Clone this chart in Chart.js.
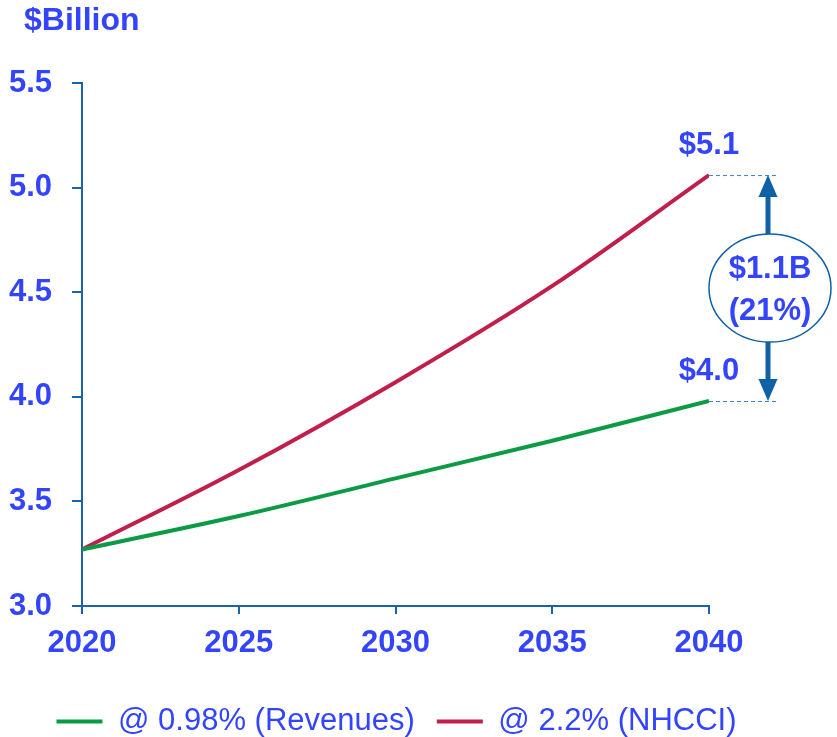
<!DOCTYPE html>
<html>
<head>
<meta charset="utf-8">
<title>$Billion projection</title>
<script src="https://cdn.jsdelivr.net/npm/chart.js@4.4.1/dist/chart.umd.min.js"></script>
<style>
  html, body { margin: 0; padding: 0; background: #fff; }
  #wrap { width: 837px; height: 737px; position: relative; }
</style>
</head>
<body>
<div id="wrap"><canvas id="chart"></canvas></div>
<script>
// ── Data ──────────────────────────────────────────────────────────────────────
const YEARS        = [2020, 2025, 2030, 2035, 2040];
const REVENUES     = [3.27, 3.43, 3.61, 3.79, 3.98];   // @ 0.98%
const NHCCI        = [3.27, 3.65, 4.07, 4.53, 5.06];   // @ 2.2%
const SERIES_NAMES = ['@ 0.98% (Revenues)', '@ 2.2% (NHCCI)'];
const Y_TICKS      = [3.0, 3.5, 4.0, 4.5, 5.0, 5.5];
const END_LABELS   = ['$4.0', '$5.1'];
const GAP_LABEL    = ['$1.1B', '(21%)'];
const UNIT_LABEL   = '$Billion';

// ── Style ─────────────────────────────────────────────────────────────────────
const TEXT_BLUE = '#3344ff';
const AXIS_BLUE = '#1a62ac';
const ARROW_BLUE = '#1060a8';
const GREEN = '#0b9b45';
const RED   = '#c11f4b';
const FONT  = "'Liberation Sans', Arial, sans-serif";

const toPts = vals => YEARS.map((x, i) => ({ x, y: vals[i] }));

// ── Annotation plugin (end labels, gap arrow, unit title) ─────────────────────
const annotations = {
  id: 'annotations',
  afterDatasetsDraw(chart) {
    const { ctx, scales: { x, y } } = chart;
    const xEnd = x.getPixelForValue(YEARS[YEARS.length - 1]);
    const yHi  = y.getPixelForValue(NHCCI[NHCCI.length - 1]);
    const yLo  = y.getPixelForValue(REVENUES[REVENUES.length - 1]);
    const ax   = xEnd + 59;
    const cy   = (yHi + yLo) / 2;
    const rx = 61, ry = 54;

    ctx.save();

    // unit title
    ctx.fillStyle = TEXT_BLUE;
    ctx.font = `bold 32px ${FONT}`;
    ctx.textAlign = 'left';
    ctx.textBaseline = 'middle';
    ctx.fillText(UNIT_LABEL, 24, 21);

    // dashed guides
    ctx.strokeStyle = '#3f7fc4';
    ctx.lineWidth = 1;
    ctx.setLineDash([4, 3]);
    [yHi, yLo].forEach(yy => {
      ctx.beginPath();
      ctx.moveTo(xEnd, yy + 0.5);
      ctx.lineTo(xEnd + 68, yy + 0.5);
      ctx.stroke();
    });
    ctx.setLineDash([]);

    // arrow shafts + heads
    ctx.fillStyle = ARROW_BLUE;
    ctx.strokeStyle = ARROW_BLUE;
    ctx.lineWidth = 5;
    ctx.beginPath();
    ctx.moveTo(ax, yHi + 20); ctx.lineTo(ax, cy);
    ctx.moveTo(ax, cy);       ctx.lineTo(ax, yLo - 20);
    ctx.stroke();
    const head = (tipY, dir) => {
      ctx.beginPath();
      ctx.moveTo(ax, tipY);
      ctx.lineTo(ax - 9.5, tipY + dir * 22);
      ctx.lineTo(ax + 9.5, tipY + dir * 22);
      ctx.closePath();
      ctx.fill();
    };
    head(yHi, 1);
    head(yLo, -1);

    // ellipse
    ctx.beginPath();
    ctx.ellipse(ax + 2, cy, rx, ry, 0, 0, Math.PI * 2);
    ctx.fillStyle = '#fff';
    ctx.fill();
    ctx.lineWidth = 1.5;
    ctx.stroke();

    // texts
    ctx.fillStyle = TEXT_BLUE;
    ctx.textAlign = 'center';
    ctx.font = `bold 31px ${FONT}`;
    ctx.fillText(GAP_LABEL[0], ax + 2, cy - 19);
    ctx.fillText(GAP_LABEL[1], ax + 2, cy + 23);
    ctx.fillText(END_LABELS[1], xEnd, yHi - 30);
    ctx.fillText(END_LABELS[0], xEnd, yLo - 30);

    ctx.restore();
  },
};

// ── Chart ─────────────────────────────────────────────────────────────────────
Chart.defaults.font.family = FONT;
Chart.defaults.color = TEXT_BLUE;

new Chart(document.getElementById('chart'), {
  type: 'line',
  data: {
    datasets: [
      { label: SERIES_NAMES[0], data: toPts(REVENUES), borderColor: GREEN, backgroundColor: GREEN,
        borderWidth: 4, pointRadius: 0, cubicInterpolationMode: 'monotone' },
      { label: SERIES_NAMES[1], data: toPts(NHCCI), borderColor: RED, backgroundColor: RED,
        borderWidth: 4, pointRadius: 0, cubicInterpolationMode: 'monotone' },
    ],
  },
  options: {
    responsive: true,
    maintainAspectRatio: false,
    animation: false,
    layout: { padding: { top: 83, left: 0, right: 44, bottom: -10 } },
    plugins: {
      tooltip: { enabled: false },
      legend: {
        position: 'bottom',
        labels: {
          color: TEXT_BLUE,
          font: { size: 31 },
          boxWidth: 46,
          boxHeight: 4,
          padding: 22,
          generateLabels: chart => Chart.defaults.plugins.legend.labels.generateLabels(chart)
            .map(item => ({ ...item, lineWidth: 0 })),
        },
      },
    },
    scales: {
      x: {
        type: 'linear',
        min: YEARS[0], max: YEARS[YEARS.length - 1],
        afterBuildTicks: s => { s.ticks = YEARS.map(v => ({ value: v })); },
        grid: { drawOnChartArea: false, tickLength: 8, color: AXIS_BLUE, lineWidth: 2 },
        border: { color: AXIS_BLUE, width: 2 },
        ticks: { color: TEXT_BLUE, font: { size: 31, weight: 'bold' }, padding: 11,
                 maxRotation: 0, callback: v => String(v) },
        afterFit: s => { s.height = 78; },
      },
      y: {
        min: Y_TICKS[0], max: Y_TICKS[Y_TICKS.length - 1],
        afterBuildTicks: s => { s.ticks = Y_TICKS.map(v => ({ value: v })); },
        grid: { drawOnChartArea: false, tickLength: 10, color: AXIS_BLUE, lineWidth: 2 },
        border: { color: AXIS_BLUE, width: 2 },
        ticks: { color: TEXT_BLUE, font: { size: 31, weight: 'bold' }, padding: 20,
                 callback: v => v.toFixed(1) },
        afterFit: s => { s.width = 82; },
      },
      yR: {
        position: 'right',
        min: 0, max: 1,
        grid: { display: false },
        border: { display: false },
        ticks: { display: false },
        afterFit: s => { s.width = 84; },
      },
    },
  },
  plugins: [annotations],
});
</script>
</body>
</html>
